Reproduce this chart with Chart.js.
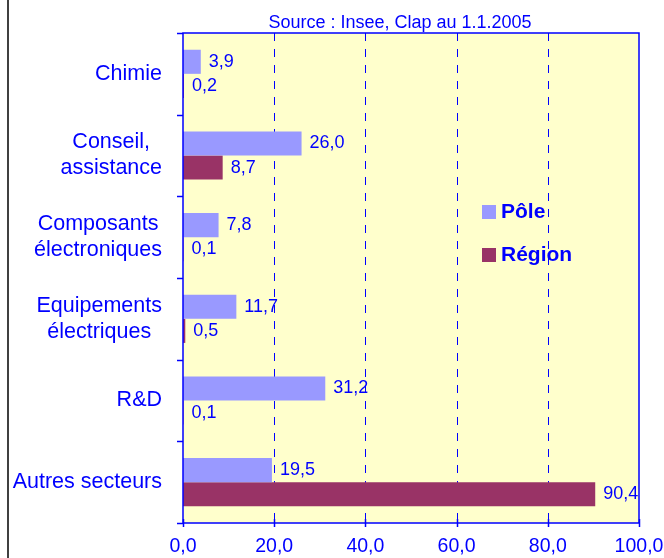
<!DOCTYPE html>
<html>
<head>
<meta charset="utf-8">
<script src="https://cdn.jsdelivr.net/npm/chart.js@4/dist/chart.umd.min.js"></script>
<style>
  html, body { margin: 0; padding: 0; background: #ffffff; }
  #wrap { position: relative; width: 664px; height: 558px; }
</style>
</head>
<body>
<div id="wrap"><canvas id="c" width="664" height="558"></canvas></div>
<script>
const categories = [
  ["Chimie"],
  ["Conseil,", "assistance"],
  ["Composants", "électroniques"],
  ["Equipements", "électriques"],
  ["R&D"],
  ["Autres secteurs"]
];
const poleValues = [3.9, 26.0, 7.8, 11.7, 31.2, 19.5];
const regionValues = [0.2, 8.7, 0.1, 0.5, 0.1, 90.4];
const seriesNames = ["Pôle", "Région"];
const xTicks = [0, 20, 40, 60, 80, 100];
const titleText = "Source : Insee, Clap au 1.1.2005";

const BLUE = "#0000ff";
const POLE_COLOR = "#9999ff";
const REGION_COLOR = "#993366";
const BG = "#ffffcc";
const FONT = "'Liberation Sans', Arial, sans-serif";

function fmt(v) { return v.toFixed(1).replace(".", ","); }

const decor = {
  id: "decor",
  beforeDatasetsDraw(chart) {
    const { ctx, chartArea: a } = chart;
    const xs = chart.scales.x;
    const ys = chart.scales.y;
    ctx.save();
    ctx.fillStyle = BG;
    ctx.fillRect(a.left, a.top, a.right - a.left, a.bottom - a.top);
    // dashed vertical gridlines
    ctx.strokeStyle = BLUE;
    ctx.lineWidth = 1;
    ctx.setLineDash([8, 8]);
    xTicks.forEach(v => {
      if (v === xs.min || v === xs.max) return;
      const x = Math.round(xs.getPixelForValue(v)) + 0.5;
      ctx.beginPath();
      ctx.moveTo(x, a.top);
      ctx.lineTo(x, a.bottom);
      ctx.stroke();
    });
    ctx.setLineDash([]);
    // x tick marks (crossing the axis)
    ctx.lineWidth = 1.5;
    xTicks.forEach(v => {
      const x = Math.round(xs.getPixelForValue(v)) + 0.5;
      ctx.beginPath();
      ctx.moveTo(x, a.bottom - 4);
      ctx.lineTo(x, a.bottom + 4);
      ctx.stroke();
    });
    // y tick marks at category boundaries (outside)
    for (let i = 0; i <= categories.length; i++) {
      const y = Math.round(ys.getPixelForValue(i - 0.5)) + 0.5;
      ctx.beginPath();
      ctx.moveTo(a.left - 6, y);
      ctx.lineTo(a.left, y);
      ctx.stroke();
    }
    ctx.restore();
  },
  afterDatasetsDraw(chart) {
    const { ctx } = chart;
    ctx.save();
    ctx.font = "18px " + FONT;
    ctx.fillStyle = BLUE;
    ctx.textAlign = "left";
    ctx.textBaseline = "middle";
    chart.data.datasets.forEach((ds, di) => {
      const meta = chart.getDatasetMeta(di);
      meta.data.forEach((el, i) => {
        ctx.fillText(fmt(ds.data[i]), el.x + 8, el.y);
      });
    });
    ctx.restore();
  },
  afterDraw(chart) {
    const { ctx, chartArea: a } = chart;
    ctx.save();
    // plot border
    ctx.strokeStyle = BLUE;
    ctx.lineWidth = 1.5;
    ctx.strokeRect(a.left, a.top, a.right - a.left, a.bottom - a.top);
    // outer frame line (left)
    ctx.strokeStyle = "#000000";
    ctx.lineWidth = 1.5;
    ctx.beginPath();
    ctx.moveTo(8, 0); ctx.lineTo(8, 558);
    ctx.stroke();
    // title
    ctx.fillStyle = BLUE;
    ctx.font = "18px " + FONT;
    ctx.textAlign = "center";
    ctx.textBaseline = "middle";
    ctx.fillText(titleText, 400, 23);
    // category labels (right-aligned blocks, centered lines)
    const ys = chart.scales.y;
    ctx.font = "21.5px " + FONT;
    categories.forEach((lines, i) => {
      const cy = ys.getPixelForValue(i);
      const widths = lines.map(l => ctx.measureText(l).width);
      const maxW = Math.max(...widths);
      const cx = 162 - maxW / 2;
      const lh = 26;
      lines.forEach((l, k) => {
        const y = cy + (k - (lines.length - 1) / 2) * lh;
        ctx.fillText(l, cx, y);
      });
    });
    // legend
    const lx = a.left + 299;
    const items = [
      { name: seriesNames[0], color: POLE_COLOR, y: a.top + 179 },
      { name: seriesNames[1], color: REGION_COLOR, y: a.top + 222 }
    ];
    ctx.font = "bold 21px " + FONT;
    ctx.textAlign = "left";
    items.forEach(it => {
      ctx.fillStyle = it.color;
      ctx.fillRect(lx, it.y - 7, 14, 14);
      ctx.fillStyle = BLUE;
      ctx.fillText(it.name, lx + 19, it.y);
    });
    ctx.restore();
  }
};

new Chart(document.getElementById("c"), {
  type: "bar",
  data: {
    labels: categories,
    datasets: [
      { label: seriesNames[0], data: poleValues, backgroundColor: POLE_COLOR, categoryPercentage: 0.59, barPercentage: 1.0 },
      { label: seriesNames[1], data: regionValues, backgroundColor: REGION_COLOR, categoryPercentage: 0.59, barPercentage: 1.0 }
    ]
  },
  options: {
    indexAxis: "y",
    responsive: false,
    animation: false,
    devicePixelRatio: 1,
    layout: { padding: { top: 33, right: 25, left: 0, bottom: 0 } },
    plugins: {
      legend: { display: false },
      title: { display: false },
      tooltip: { enabled: false }
    },
    scales: {
      x: {
        type: "linear",
        min: 0,
        max: 100,
        afterBuildTicks(scale) { scale.ticks = xTicks.map(v => ({ value: v })); },
        afterFit(scale) { scale.height = 35; scale.paddingLeft = 0; scale.paddingRight = 0; },
        ticks: {
          color: BLUE,
          font: { family: FONT, size: 19.5 },
          padding: 12,
          callback: v => fmt(v)
        },
        grid: { display: false, drawTicks: false },
        border: { display: false }
      },
      y: {
        type: "category",
        afterFit(scale) { scale.width = 183; scale.paddingTop = 0; scale.paddingBottom = 0; },
        ticks: { display: false },
        grid: { display: false, drawTicks: false },
        border: { display: false }
      }
    }
  },
  plugins: [decor]
});
</script>
</body>
</html>
